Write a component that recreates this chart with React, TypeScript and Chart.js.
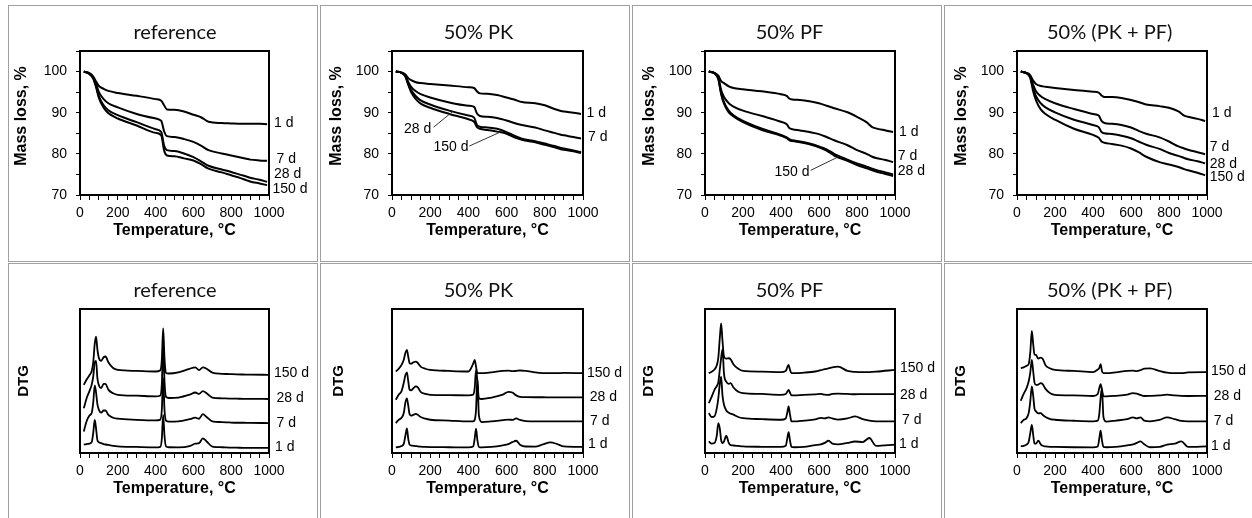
import React, { useEffect, useRef } from 'react';
import { Chart, registerables } from 'chart.js';

Chart.register(...registerables);

// ---------------- data ----------------
const PANEL_TITLES = ['reference', '50% PK', '50% PF', '50% (PK + PF)'];
const AGE_LABELS = ['1 d', '7 d', '28 d', '150 d'];
const X_TICK_LABELS = [0, 200, 400, 600, 800, 1000];
const Y_TICK_LABELS = [70, 80, 90, 100];
const X_TITLE = 'Temperature, °C';
const TGA_Y_TITLE = 'Mass loss, %';
const DTG_Y_TITLE = 'DTG';

// TGA (mass loss, %)
const T_TGA = [20, 50, 70, 85, 100, 125, 150, 200, 300, 400, 430, 445, 460, 500, 550, 600, 640, 680, 750, 800, 850, 880, 900, 950, 990];

const REF_TGA_1D = [100, 99.6, 98.8, 97.6, 96.5, 95.8, 95.3, 94.8, 94.1, 93.3, 92.9, 91.8, 90.8, 90.7, 90.3, 89.5, 88.9, 87.8, 87.5, 87.4, 87.3, 87.3, 87.3, 87.3, 87.2];
const REF_TGA_7D = [100, 99.5, 98.6, 97.0, 95.0, 93.3, 92.3, 91.3, 89.7, 88.6, 88.0, 85.5, 84.3, 84.1, 83.6, 82.9, 82.0, 80.9, 80.1, 79.6, 79.1, 78.8, 78.6, 78.4, 78.3];
const REF_TGA_28D = [100, 99.5, 98.4, 96.5, 94.0, 91.8, 90.6, 89.4, 87.7, 86.0, 85.3, 82.0, 80.9, 80.7, 80.1, 79.2, 78.2, 77.1, 76.2, 75.6, 74.9, 74.5, 74.2, 73.7, 73.2];
const REF_TGA_150D = [100, 99.4, 98.3, 96.2, 93.6, 91.2, 89.9, 88.6, 86.9, 85.1, 84.5, 80.8, 79.6, 79.4, 78.9, 78.4, 77.5, 76.4, 75.5, 74.8, 74.1, 73.6, 73.3, 72.8, 72.4];

const PK_TGA_1D = [100, 99.8, 99.3, 98.4, 97.9, 97.4, 97.2, 97.0, 96.6, 96.2, 96.0, 95.2, 94.7, 94.6, 94.3, 93.7, 93.2, 92.6, 92.3, 91.8, 90.9, 90.5, 90.3, 90.0, 89.7];
const PK_TGA_7D = [100, 99.7, 99.0, 97.5, 96.3, 95.2, 94.5, 93.7, 92.5, 91.7, 91.4, 89.8, 89.2, 89.0, 88.7, 88.1, 87.5, 87.0, 86.4, 85.7, 85.1, 84.7, 84.5, 84.1, 83.7];
const PK_TGA_28D = [100, 99.7, 98.9, 97.0, 95.5, 94.0, 93.0, 92.0, 90.5, 89.3, 88.8, 87.0, 86.6, 86.4, 86.1, 85.3, 84.4, 83.7, 83.1, 82.5, 81.9, 81.5, 81.3, 80.8, 80.4];
const PK_TGA_150D = [100, 99.7, 98.8, 96.8, 95.0, 93.3, 92.2, 91.2, 89.7, 88.4, 87.8, 86.5, 86.1, 85.8, 85.4, 84.9, 84.0, 83.4, 82.8, 82.2, 81.6, 81.2, 81.0, 80.6, 80.2];

const PF_TGA_1D = [100, 99.7, 99.0, 97.7, 97.2, 96.4, 96.0, 95.7, 95.2, 94.5, 94.1, 93.4, 93.2, 93.1, 92.8, 92.3, 91.7, 91.1, 90.1, 89.0, 87.7, 86.5, 86.2, 85.7, 85.3];
const PF_TGA_7D = [100, 99.6, 98.5, 95.5, 93.8, 92.3, 91.5, 90.5, 89.2, 87.8, 87.2, 86.2, 86.0, 85.7, 85.3, 84.8, 84.1, 83.3, 82.1, 80.9, 80.0, 79.3, 79.0, 78.5, 78.0];
const PF_TGA_28D = [100, 99.6, 98.3, 94.8, 92.6, 90.5, 89.4, 88.0, 86.1, 84.6, 84.0, 83.5, 83.3, 83.0, 82.5, 81.8, 81.1, 80.0, 78.6, 77.7, 76.9, 76.4, 76.1, 75.5, 75.0];
const PF_TGA_150D = [100, 99.6, 98.2, 94.5, 92.2, 90.1, 89.1, 87.7, 85.8, 84.4, 83.8, 83.3, 83.1, 82.8, 82.3, 81.6, 80.8, 79.6, 78.3, 77.3, 76.5, 76.0, 75.7, 75.1, 74.6];

const PKPF_TGA_1D = [100, 99.7, 99.1, 97.8, 97.0, 96.5, 96.3, 96.0, 95.5, 95.1, 94.9, 94.2, 93.8, 93.8, 93.6, 93.1, 92.6, 92.0, 91.6, 91.2, 90.3, 89.3, 89.0, 88.5, 88.0];
const PKPF_TGA_7D = [100, 99.6, 98.8, 96.8, 95.2, 94.0, 93.3, 92.3, 90.9, 89.7, 89.3, 88.0, 87.5, 87.3, 87.0, 86.4, 85.6, 84.9, 84.0, 83.0, 81.8, 81.3, 81.0, 80.4, 79.9];
const PKPF_TGA_28D = [100, 99.6, 98.6, 96.0, 94.0, 92.3, 91.3, 90.1, 88.3, 87.0, 86.5, 85.3, 85.0, 84.8, 84.4, 83.8, 83.0, 82.2, 81.2, 80.2, 79.5, 79.0, 78.7, 78.2, 77.7];
const PKPF_TGA_150D = [100, 99.6, 98.4, 95.2, 93.0, 90.8, 89.7, 88.3, 86.1, 84.6, 83.9, 83.0, 82.7, 82.4, 82.0, 81.3, 80.4, 79.3, 78.0, 77.4, 76.8, 76.3, 76.0, 75.4, 74.8];

// label heights (mass loss, %) of the age labels: 1 d, 7 d, 28 d, 150 d
const REF_TGA_LABEL_Y = [87.4, 78.6, 75.1, 71.4];
const PK_TGA_LABEL_Y = [89.9, 84.1, 86.1, 81.7];
const PF_TGA_LABEL_Y = [85.3, 79.4, 75.9, 75.6];
const PKPF_TGA_LABEL_Y = [89.9, 81.7, 77.6, 74.4];

// DTG (stacked, arbitrary units 0..100)
const T_DTG = [20, 35, 50, 62, 70, 78, 85, 92, 100, 112, 125, 135, 150, 175, 200, 300, 400, 425, 433, 440, 447, 455, 470, 520, 580, 610, 630, 650, 670, 700, 750, 790, 830, 865, 900, 1000];

const REF_DTG_1D = [5.8, 6.2, 6.5, 7.5, 14, 23, 17, 9, 7.5, 6.8, 6.2, 5.9, 5.6, 5.0, 4.6, 4.2, 3.9, 4.3, 10, 26.5, 12, 4.6, 4.0, 3.9, 4.8, 6.5, 6.8, 10.2, 8.0, 4.5, 4.0, 3.8, 3.7, 3.6, 3.6, 3.5];
const REF_DTG_7D = [15.0, 22, 26, 28, 35, 47, 42, 34, 30, 28, 29.5, 29.5, 26.5, 24.5, 23.8, 23.0, 22.6, 23.2, 30, 52, 30, 22.5, 21.8, 22, 23.5, 24.5, 23.8, 27, 25, 22, 21.5, 21.2, 21, 21, 20.9, 20.8];
const REF_DTG_28D = [31, 38, 43, 47.5, 53, 63, 64, 52, 47, 45, 48, 48, 44, 41.5, 40.4, 39.8, 39.3, 40, 48, 75, 50, 39, 38.2, 38.5, 40.5, 42, 41, 43, 41.5, 38.5, 38, 37.8, 37.7, 37.6, 37.6, 37.5];
const REF_DTG_150D = [47.3, 51, 54, 57, 63, 76, 80.8, 72, 66, 64, 66.5, 67, 63, 59, 57.7, 57, 56.6, 57.5, 65, 86.6, 66, 55.4, 55.2, 56, 58.5, 59.5, 57.5, 59.5, 58.5, 55.8, 55, 54.8, 54.6, 54.5, 54.4, 54.3];

const PK_DTG_1D = [3.9, 4.2, 4.8, 6.5, 12, 17, 10, 5.8, 5.2, 5, 4.8, 4.6, 4.4, 4.2, 4.1, 4.0, 3.9, 4.5, 10, 16.9, 9, 4.2, 3.9, 4.2, 5.3, 6.2, 7.5, 8.5, 5.8, 4.5, 4.4, 6, 7.4, 6.2, 4.6, 4.2];
const PK_DTG_7D = [20.8, 23, 24.5, 28, 35, 38, 33, 27, 26, 26.5, 27.2, 26.5, 25, 23.8, 23.1, 22.5, 21.9, 22, 23, 30, 52, 26, 21.5, 22, 22.8, 23.2, 23, 24, 23, 22.2, 22, 22, 21.9, 21.9, 21.9, 21.9];
const PK_DTG_28D = [37, 40.5, 43, 49, 54, 56, 50, 44, 43.5, 45, 46.2, 45.5, 42.5, 41, 40.4, 40.2, 40.0, 40.5, 45, 57.7, 50, 38, 37.5, 38.5, 40.5, 42.5, 42, 40, 39, 38.8, 38.7, 38.7, 38.6, 38.6, 38.6, 38.6];
const PK_DTG_150D = [56.6, 58.5, 61.2, 65, 69.5, 71.6, 67, 62.4, 62, 63, 63.5, 62.5, 60, 58.5, 57.7, 57, 56.6, 62, 64.7, 60, 55.5, 55.4, 55.4, 56, 57, 57.2, 56.8, 57, 57.3, 57, 56, 55.5, 55.4, 55.4, 55.6, 55.4];

const PF_DTG_1D = [8.1, 6.5, 6.9, 12, 20.8, 17, 9, 6.9, 8, 12, 7, 5.5, 5.2, 4.9, 4.6, 4.3, 4.2, 5, 10, 14.5, 9, 4.2, 4.0, 4.2, 5.5, 6, 7, 8.5, 6.5, 6, 7, 8, 7.6, 10.4, 5, 5.8];
const PF_DTG_7D = [27.7, 25, 25.5, 31, 38, 48, 53, 40, 33.5, 29.5, 28, 27.3, 26.6, 25, 24.2, 23.5, 23.1, 24, 28, 32.3, 27, 22, 21.9, 22.5, 23.3, 24.4, 24, 24.7, 24, 23.2, 24, 25.4, 23.5, 22.5, 22, 21.9];
const PF_DTG_28D = [34.6, 39, 43.9, 46.5, 49, 58, 66, 72, 55, 49.5, 48, 48.5, 45.5, 42.5, 41.6, 41, 40.4, 41, 42.5, 43.9, 42, 40, 40, 40.4, 40.7, 41, 40.5, 40.3, 41, 41.3, 41, 40.8, 40.9, 40.9, 40.9, 40.9];
const PF_DTG_150D = [55.4, 56.5, 58, 61, 66, 80, 90, 78, 67, 65.5, 65.8, 65, 61.5, 58.5, 57, 56.5, 56.1, 57, 59.5, 61.2, 58, 55.4, 55.4, 55.8, 56.6, 57.5, 58.2, 58.7, 59.5, 60, 57, 56.3, 56.1, 56.2, 56.5, 57.7];

const PKPF_DTG_1D = [4.6, 5, 5.8, 8, 14, 19.6, 13, 6.5, 6.5, 8.5, 6, 5, 4.6, 4.3, 4.2, 4, 3.9, 4.5, 10, 15.5, 9, 4.2, 4, 4.3, 5.3, 6, 7, 8.1, 6, 4, 4.2, 5.8, 6.5, 8.1, 4.2, 4.6];
const PKPF_DTG_7D = [20.8, 23, 24.2, 28, 36, 46.2, 40, 31, 28.9, 27.5, 27.7, 26.5, 25, 23.6, 23.1, 22.4, 22, 22.5, 27, 38, 45, 25, 21.8, 22.5, 23.5, 24.7, 24, 24.7, 22.5, 22, 23, 24.7, 23.5, 22.3, 22, 21.9];
const PKPF_DTG_28D = [36.3, 41, 45, 50, 56, 64.7, 57, 49, 47.3, 47.5, 48.5, 47.8, 44.5, 41.5, 40.4, 40, 39.6, 41, 45, 47.8, 44, 39.5, 39.3, 39.7, 40.5, 41.6, 41.3, 40.3, 39.6, 39.7, 40, 40.5, 40, 39.7, 39.6, 39.7];
const PKPF_DTG_150D = [58.9, 59.5, 60.5, 62, 70, 84.8, 76, 68.5, 68.1, 65.5, 66.3, 65.5, 61, 58.7, 57.7, 57, 56.2, 58, 59, 61.7, 57, 55.4, 55.4, 56, 57, 57.2, 56.8, 57.5, 58.6, 58.8, 57, 55.8, 55.4, 55.4, 56, 56.1];

const REF_DTG_LABEL_Y = [3.9, 20.8, 38.1, 55.4];
const PK_DTG_LABEL_Y = [6.2, 21.9, 38.6, 55.4];
const PF_DTG_LABEL_Y = [6.2, 23.1, 40.4, 58.9];
const PKPF_DTG_LABEL_Y = [4.6, 21.9, 39.3, 57.0];

const TGA_SERIES = [
  [REF_TGA_1D, REF_TGA_7D, REF_TGA_28D, REF_TGA_150D],
  [PK_TGA_1D, PK_TGA_7D, PK_TGA_28D, PK_TGA_150D],
  [PF_TGA_1D, PF_TGA_7D, PF_TGA_28D, PF_TGA_150D],
  [PKPF_TGA_1D, PKPF_TGA_7D, PKPF_TGA_28D, PKPF_TGA_150D],
];
const DTG_SERIES = [
  [REF_DTG_1D, REF_DTG_7D, REF_DTG_28D, REF_DTG_150D],
  [PK_DTG_1D, PK_DTG_7D, PK_DTG_28D, PK_DTG_150D],
  [PF_DTG_1D, PF_DTG_7D, PF_DTG_28D, PF_DTG_150D],
  [PKPF_DTG_1D, PKPF_DTG_7D, PKPF_DTG_28D, PKPF_DTG_150D],
];
const TGA_LABEL_Y = [REF_TGA_LABEL_Y, PK_TGA_LABEL_Y, PF_TGA_LABEL_Y, PKPF_TGA_LABEL_Y];
const DTG_LABEL_Y = [REF_DTG_LABEL_Y, PK_DTG_LABEL_Y, PF_DTG_LABEL_Y, PKPF_DTG_LABEL_Y];

// ---------------- layout & style ----------------
const CELL_L = [8, 320, 632, 944];
const CELL_W = [310, 310, 310, 310];
const CELL_T = [5, 263];
const CELL_H = [257, 262];
const PLOT_L = [80, 392, 705, 1017];
const PLOT_R = [269, 583, 895, 1207];
const PLOT_T = [51, 309];
const PLOT_B = [195, 453];
const TITLE_SHIFT = [0.5, -9, -10.5, -2.3];
const YTITLE_DX = [[-58, -55, -55, -55], [-56, -53, -56, -56]];
const TGA_LABEL_DX = [[5, 7.5, 5, 3.5], [3.5, 5, 0, 0], [4, 2.7, 2.7, 0], [5, 2.7, 2.7, 2.7]];
const DTG_LABEL_DX = [[6, 7.5, 7.5, 5], [5, 7, 6.7, 4], [4, 7, 5, 5], [4, 6.7, 6.7, 4]];
// inside labels with leader lines: [col, series, textCenterX, leaderStartX, leaderStartY, leaderEndX]
const INSIDE_LABELS: number[][] = [
  [1, 2, 134, 218, 86.5, 318],
  [1, 3, 309, 405, 81.9, 565],
  [2, 3, 458, 556, 76.0, 700],
];

const ARIAL = "'Liberation Sans', Arial, sans-serif";
const TITLE_FONT = "Lato, 'Open Sans', sans-serif";

function interp(xs: number[], ys: number[], x: number): number {
  for (let i = 1; i < xs.length; i++) {
    if (x <= xs[i]) {
      const t = (x - xs[i - 1]) / (xs[i] - xs[i - 1]);
      return ys[i - 1] + t * (ys[i] - ys[i - 1]);
    }
  }
  return ys[ys.length - 1];
}

type Panel = { row: number; col: number };
const PANELS: Panel[] = [];
for (let r = 0; r < 2; r++) for (let c = 0; c < 4; c++) PANELS.push({ row: r, col: c });

function canvasBox(p: Panel) {
  return {
    left: CELL_L[p.col] + 1,
    top: CELL_T[p.row] + 1,
    width: CELL_W[p.col] - 2,
    height: CELL_H[p.row] - 2,
  };
}

function buildConfig(p: Panel): any {
  const isTGA = p.row === 0;
  const T = isTGA ? T_TGA : T_DTG;
  const series = isTGA ? TGA_SERIES[p.col] : DTG_SERIES[p.col];
  const labelY = isTGA ? TGA_LABEL_Y[p.col] : DTG_LABEL_Y[p.col];
  const labelDX = isTGA ? TGA_LABEL_DX[p.col] : DTG_LABEL_DX[p.col];
  const box = canvasBox(p);
  const leftW = PLOT_L[p.col] - box.left;
  const padTop = PLOT_T[p.row] - box.top;
  const padRight = box.left + box.width - PLOT_R[p.col];
  const xH = box.top + box.height - PLOT_B[p.row];
  const inside = INSIDE_LABELS.filter((l) => isTGA && l[0] === p.col);

  const decor = {
    id: 'panelDecor',
    afterDraw(chart: any) {
      const { ctx, chartArea: a } = chart;
      const xs = chart.scales.x;
      const ys = chart.scales.y;
      ctx.save();
      // plot frame
      ctx.strokeStyle = '#000';
      ctx.lineWidth = 2;
      ctx.strokeRect(a.left, a.top, a.right - a.left, a.bottom - a.top);
      // title
      ctx.fillStyle = '#111';
      ctx.font = `20px ${TITLE_FONT}`;
      ctx.textAlign = 'center';
      ctx.textBaseline = 'alphabetic';
      ctx.fillText(PANEL_TITLES[p.col], (a.left + a.right) / 2 + TITLE_SHIFT[p.col], a.top - 12);
      // axis titles
      ctx.fillStyle = '#000';
      ctx.font = `bold 16px ${ARIAL}`;
      ctx.textBaseline = 'middle';
      ctx.fillText(X_TITLE, (a.left + a.right) / 2, a.bottom + 36);
      ctx.save();
      ctx.translate(a.left + YTITLE_DX[p.row][p.col], (a.top + a.bottom) / 2 + (isTGA ? -7 : 0));
      ctx.rotate(-Math.PI / 2);
      ctx.font = isTGA ? `bold 16px ${ARIAL}` : `bold 15px ${ARIAL}`;
      ctx.fillText(isTGA ? TGA_Y_TITLE : DTG_Y_TITLE, 0, 0);
      ctx.restore();
      // age labels
      ctx.font = `14px ${ARIAL}`;
      for (let i = 0; i < AGE_LABELS.length; i++) {
        const ins = inside.find((l) => l[1] === i);
        const yPix = ys.getPixelForValue(labelY[i]);
        if (ins) {
          ctx.textAlign = 'center';
          ctx.fillText(AGE_LABELS[i], xs.getPixelForValue(ins[2]), yPix);
          ctx.strokeStyle = '#333';
          ctx.lineWidth = 1;
          ctx.beginPath();
          ctx.moveTo(xs.getPixelForValue(ins[3]), ys.getPixelForValue(ins[4]));
          ctx.lineTo(xs.getPixelForValue(ins[5]), ys.getPixelForValue(interp(T, series[i], ins[5])));
          ctx.stroke();
        } else {
          ctx.textAlign = 'left';
          ctx.fillText(AGE_LABELS[i], a.right + labelDX[i], yPix);
        }
      }
      ctx.restore();
    },
  };

  return {
    type: 'line',
    data: {
      datasets: series.map((vals, i) => ({
        label: AGE_LABELS[i],
        data: T.map((t, k) => ({ x: t, y: vals[k] })),
        borderColor: '#000',
        borderWidth: isTGA ? 2 : 1.8,
        pointRadius: 0,
        fill: false,
        cubicInterpolationMode: 'monotone',
      })),
    },
    options: {
      animation: false,
      responsive: false,
      maintainAspectRatio: false,
      events: [],
      layout: { padding: { top: padTop, right: padRight, bottom: 0, left: isTGA ? 0 : leftW } },
      plugins: { legend: { display: false }, tooltip: { enabled: false }, title: { display: false } },
      scales: {
        x: {
          type: 'linear',
          min: 0,
          max: 1000,
          border: { display: false },
          grid: { drawOnChartArea: false, drawTicks: true, tickLength: 5, color: '#000', lineWidth: 1 },
          ticks: {
            stepSize: 50,
            maxTicksLimit: 100,
            autoSkip: false,
            maxRotation: 0,
            padding: 5,
            color: '#000',
            font: { family: ARIAL, size: 14 },
            callback: (v: number) => (X_TICK_LABELS.includes(v) ? String(v) : ''),
          },
          afterFit: (s: any) => {
            s.height = xH;
          },
        },
        y: isTGA
          ? {
              type: 'linear',
              min: 70,
              max: 105,
              border: { display: false },
              grid: { drawOnChartArea: false, drawTicks: true, tickLength: 4, color: '#000', lineWidth: 1 },
              ticks: {
                stepSize: 5,
                padding: 9,
                color: '#000',
                font: { family: ARIAL, size: 14 },
                callback: (v: number) => (Y_TICK_LABELS.includes(v) ? String(v) : ''),
              },
              afterFit: (s: any) => {
                s.width = leftW;
              },
            }
          : { type: 'linear', min: 0, max: 100, display: false },
      },
    },
    plugins: [decor],
  };
}

export default function App() {
  const refs = useRef<(HTMLCanvasElement | null)[]>([]);

  useEffect(() => {
    const charts = PANELS.map((p, i) => new Chart(refs.current[i] as HTMLCanvasElement, buildConfig(p)));
    return () => charts.forEach((c) => c.destroy());
  }, []);

  return (
    <div style={{ position: 'absolute', left: 0, top: 0, width: 1252, height: 518, overflow: 'hidden', background: '#fff' }}>
      {PANELS.map((p, i) => (
        <div
          key={'cell' + i}
          style={{
            position: 'absolute',
            left: CELL_L[p.col],
            top: CELL_T[p.row],
            width: CELL_W[p.col],
            height: CELL_H[p.row],
            boxSizing: 'border-box',
            border: '1px solid #a0a0a0',
          }}
        />
      ))}
      {PANELS.map((p, i) => {
        const b = canvasBox(p);
        return (
          <canvas
            key={'cv' + i}
            ref={(el) => {
              refs.current[i] = el;
            }}
            width={b.width}
            height={b.height}
            style={{ position: 'absolute', left: b.left, top: b.top, width: b.width, height: b.height }}
          />
        );
      })}
    </div>
  );
}
